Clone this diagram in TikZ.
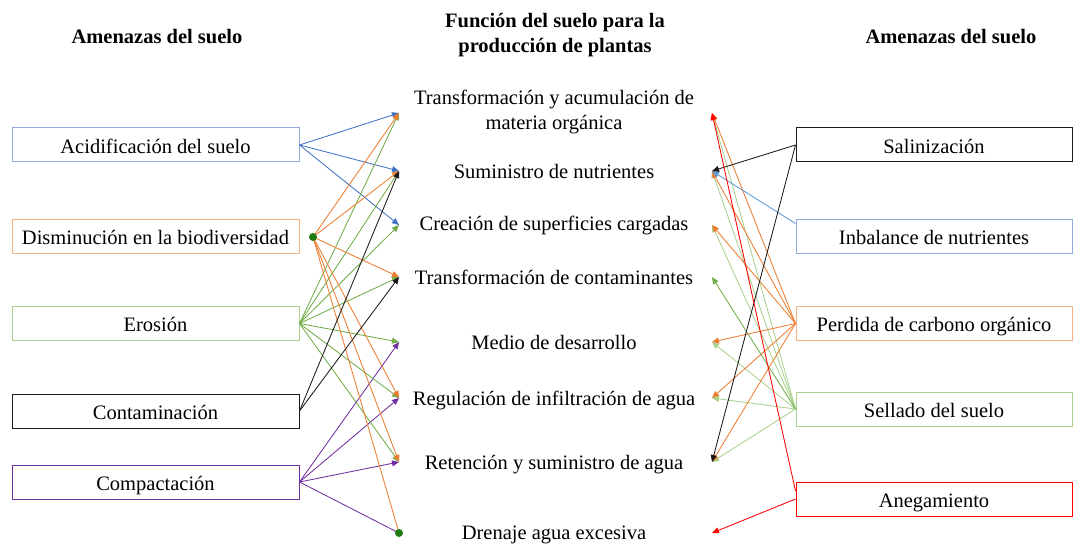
\documentclass[tikz,border=0pt]{standalone}
\usepackage{fontspec}
\setmainfont{Liberation Serif}
\usetikzlibrary{arrows.meta}
\definecolor{cblue}{HTML}{4472C4}
\definecolor{cbluel}{HTML}{8FAADC}
\definecolor{cblue2}{HTML}{5B9BD5}
\definecolor{corange}{HTML}{ED7D31}
\definecolor{corangel}{HTML}{F4B183}
\definecolor{cgreen}{HTML}{70AD47}
\definecolor{cgreenl}{HTML}{A9D18E}
\definecolor{cblack}{HTML}{1A1A1A}
\definecolor{cpurple}{HTML}{7030A0}
\definecolor{cred}{HTML}{FF0000}
\definecolor{cdot}{HTML}{1F7A12}
\begin{document}
\begin{tikzpicture}[x=1pt,y=-1pt,
  font=\fontsize{20.5}{24.5}\selectfont,
  lbox/.style={draw, line width=1pt, minimum width=287pt, minimum height=34pt, inner sep=0pt, text height=20pt, text depth=3pt},
  rbox/.style={draw, line width=1pt, minimum width=276pt, minimum height=34pt, inner sep=0pt, text height=20pt, text depth=3pt},
  func/.style={align=center, inner sep=0pt},
  head/.style={font=\fontsize{20.5}{25}\selectfont\bfseries, align=center, inner sep=0pt},
  conn/.style={line width=0.85pt, -{Triangle[length=7pt,width=6pt]}},
  plain/.style={line width=0.85pt},
  gdot/.style={circle, fill=cdot, inner sep=0pt, minimum size=8pt}]
\useasboundingbox (0,0) rectangle (1074,545);
% headers
\node[head] (hl) at (157,37) {Amenazas del suelo};
\node[head] (hm) at (555,35) {Función del suelo para la\\producción de plantas};
\node[head] (hr) at (951,37) {Amenazas del suelo};
% left boxes
\node[lbox, draw=cbluel] (acid) at (155.5,145) {Acidificación del suelo};
\node[lbox, draw=corangel] (dism) at (155.5,236.5) {Disminución en la biodiversidad};
\node[lbox, draw=cgreenl] (eros) at (155.5,323.5) {Erosión};
\node[lbox, draw=cblack] (cont) at (155.5,411) {Contaminación};
\node[lbox, draw=cpurple] (comp) at (155.5,482) {Compactación};
% right boxes
\node[rbox, draw=cblack] (sal) at (934,145) {Salinización};
\node[rbox, draw=cbluel] (inb) at (934,236.5) {Inbalance de nutrientes};
\node[rbox, draw=corangel] (perd) at (934,323.5) {Perdida de carbono orgánico};
\node[rbox, draw=cgreenl] (sell) at (934,409) {Sellado del suelo};
\node[rbox, draw=cred] (ane) at (934,499) {Anegamiento};
% functions
\node[func] (t1) at (554,112) {Transformación y acumulación de\\materia orgánica};
\node[func] (t2) at (554,171) {Suministro de nutrientes};
\node[func] (t3) at (554,225) {Creación de superficies cargadas};
\node[func] (t4) at (554,277) {Transformación de contaminantes};
\node[func] (t5) at (554,342) {Medio de desarrollo};
\node[func] (t6) at (554,400) {Regulación de infiltración de agua};
\node[func] (t7) at (554,465) {Retención y suministro de agua};
\node[func] (t8) at (554,535) {Drenaje agua excesiva};
% endpoints
\foreach \i/\y in {1/113,2/171,3/225,4/277,5/342,6/398,7/462,8/533}{
  \coordinate (f\i L) at (399,\y);
  \coordinate (f\i R) at (712,\y);
}
\coordinate (dd) at (313,237);
% left connectors
\foreach \i in {1,2,3} \draw[conn, cblue] (acid.east) -- (f\i L);
\foreach \i in {5,6,7} \draw[conn, cpurple] (comp.east) -- (f\i L);
\draw[plain, cpurple] (comp.east) -- (f8L);
\foreach \i in {1,...,7} \draw[conn, cgreen] (eros.east) -- (f\i L);
\foreach \i in {1,2,4,6,7} \draw[conn, corange] (dd) -- (f\i L);
\draw[plain, corange] (dd) -- (f8L);
\foreach \i in {2,4} \draw[conn, cblack] (cont.east) -- (f\i L);
\node[gdot] (dot1) at (dd) {};
\node[gdot] (dot2) at (f8L) {};
% right connectors
\foreach \i in {1,2,3,5,6,7} \draw[conn, cgreenl] (sell.west) -- (f\i R);
\draw[conn, cgreen] (sell.west) -- (f4R);
\foreach \i in {1,2,3,5,6,7} \draw[conn, corange] (perd.west) -- (f\i R);
\draw[conn, cblue2] ([yshift=13pt]inb.west) -- (f2R);
\foreach \i in {2,7} \draw[conn, cblack] (sal.west) -- (f\i R);
\draw[conn, cred] ([yshift=8pt]ane.west) -- (f1R);
\draw[conn, cred] (ane.west) -- (f8R);
\end{tikzpicture}
\end{document}
